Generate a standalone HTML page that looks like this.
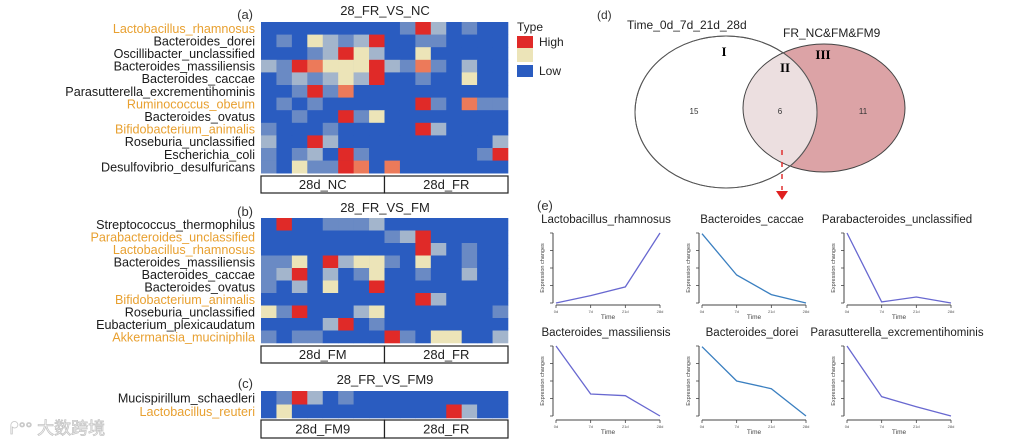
<!DOCTYPE html>
<html><head><meta charset="utf-8"><style>
html,body{margin:0;padding:0;background:#fff;width:1014px;height:440px;overflow:hidden}
svg text{font-family:"Liberation Sans",Arial,sans-serif}
</style></head><body>
<svg id="fig" width="1014" height="440" viewBox="0 0 1014 440" xmlns="http://www.w3.org/2000/svg">
<rect width="1014" height="440" fill="#fff"/>
<g id="heat"></g>
<g id="legend">
 <text x="517" y="31" font-size="12" fill="#222">Type</text>
 <rect x="517" y="36" width="16" height="12" fill="#e02a28"/>
 <rect x="517" y="48" width="16" height="14" fill="#ece4b8"/>
 <rect x="517" y="65" width="16" height="12" fill="#2a5cc0"/>
 <text x="539" y="46" font-size="12" fill="#222">High</text>
 <text x="539" y="75" font-size="12" fill="#222">Low</text>
</g>
<g id="venn">
 <defs><clipPath id="c1"><ellipse cx="726" cy="112" rx="91" ry="76"/></clipPath></defs>
 <text x="597" y="19" font-size="12" fill="#333">(d)</text>
 <text x="627" y="29" font-size="12" fill="#222">Time_0d_7d_21d_28d</text>
 <text x="783" y="37" font-size="12" fill="#222">FR_NC&amp;FM&amp;FM9</text>
 <ellipse cx="824" cy="108" rx="81" ry="64" fill="#dca3a6" stroke="#444" stroke-width="1"/>
 <ellipse cx="726" cy="112" rx="91" ry="76" fill="#fff" stroke="#555" stroke-width="1"/>
 <ellipse cx="824" cy="108" rx="81" ry="64" fill="#ecdfe0" stroke="#444" clip-path="url(#c1)"/>
 <ellipse cx="726" cy="112" rx="91" ry="76" fill="none" stroke="#555" stroke-width="1"/>
 <text x="724" y="56" font-size="13" font-weight="bold" text-anchor="middle" style="font-family:'Liberation Serif',serif">I</text>
 <text x="785" y="72" font-size="13" font-weight="bold" text-anchor="middle" style="font-family:'Liberation Serif',serif">II</text>
 <text x="823" y="59" font-size="13" font-weight="bold" text-anchor="middle" style="font-family:'Liberation Serif',serif">III</text>
 <text x="694" y="114" font-size="8" text-anchor="middle" fill="#333">15</text>
 <text x="780" y="114" font-size="8" text-anchor="middle" fill="#333">6</text>
 <text x="863" y="114" font-size="8" text-anchor="middle" fill="#333">11</text>
 <line x1="782" y1="150" x2="782" y2="190" stroke="#e03030" stroke-width="1.5" stroke-dasharray="5,7"/>
 <polygon points="776,191 788,191 782,200" fill="#e02020"/>
</g>
<text x="537" y="210" font-size="13" fill="#333">(e)</text>
<g id="lines"></g>
<g opacity="0.85">
 <text x="10" y="434" font-size="17" fill="#fff" stroke="#bbb" stroke-width="0.8" style="font-family:'Liberation Sans','Noto Sans CJK SC',sans-serif">ᖰ°° 大数跨境</text>
</g>
</svg>
<script>
const NS="http://www.w3.org/2000/svg";
const colors=["#2a5cc0","#6a8ac4","#a3b5cc","#ece4b8","#ec7a5a","#e02a28"];
const orange="#e8a030";
// Heatmap (a)
const rowsA=["Lactobacillus_rhamnosus","Bacteroides_dorei","Oscillibacter_unclassified","Bacteroides_massiliensis","Bacteroides_caccae","Parasutterella_excrementihominis","Ruminococcus_obeum","Bacteroides_ovatus","Bifidobacterium_animalis","Roseburia_unclassified","Escherichia_coli","Desulfovibrio_desulfuricans"];
const hlA=[1,0,0,0,0,0,1,0,1,0,0,0];
const valsA=[
[0,0,0,0,0,0,0,0,0,1,5,2,0,1,0,0],
[0,1,0,3,2,1,2,5,0,0,1,1,0,0,0,0],
[0,0,0,1,2,5,3,2,0,0,3,0,0,0,0,0],
[2,1,5,4,3,3,3,5,2,1,4,1,0,2,0,0],
[0,1,2,1,2,3,2,5,0,0,1,0,0,3,0,0],
[0,0,1,5,1,4,0,0,0,0,0,0,0,0,0,0],
[0,1,0,1,0,0,0,0,0,0,5,1,0,4,1,1],
[0,0,1,0,0,5,1,3,0,0,0,0,0,0,0,0],
[1,0,0,0,1,0,0,0,0,0,5,2,0,0,0,0],
[2,0,0,5,2,0,0,0,0,0,0,0,0,0,0,2],
[1,0,1,2,0,5,1,0,0,0,0,0,0,0,1,5],
[1,0,3,1,1,5,4,0,4,0,0,0,0,0,0,0]];
const groupsA=["28d_NC","28d_FR"];
// Heatmap (b)
const rowsB=["Streptococcus_thermophilus","Parabacteroides_unclassified","Lactobacillus_rhamnosus","Bacteroides_massiliensis","Bacteroides_caccae","Bacteroides_ovatus","Bifidobacterium_animalis","Roseburia_unclassified","Eubacterium_plexicaudatum","Akkermansia_muciniphila"];
const hlB=[0,1,1,0,0,0,1,0,0,1];
const valsB=[
[0,5,0,0,1,1,1,2,0,0,0,0,0,0,0,0],
[0,0,0,0,0,0,0,0,1,2,5,0,0,0,0,0],
[0,0,0,0,0,0,0,0,0,0,5,2,0,1,0,0],
[1,1,3,0,5,2,3,3,1,0,3,0,0,1,0,0],
[1,2,5,0,2,0,1,3,0,0,1,0,0,2,0,0],
[1,0,2,0,3,0,0,5,0,0,0,0,0,0,0,0],
[0,0,0,0,0,0,0,0,0,0,5,2,0,0,0,0],
[3,1,5,0,0,0,2,3,0,0,0,0,0,0,0,1],
[0,0,0,0,2,5,0,1,0,0,0,0,0,0,0,0],
[1,0,1,1,0,0,0,0,5,1,0,3,3,0,0,2]];
const groupsB=["28d_FM","28d_FR"];
// Heatmap (c)
const rowsC=["Mucispirillum_schaedleri","Lactobacillus_reuteri"];
const hlC=[0,1];
const valsC=[
[0,1,5,2,0,1,0,0,0,0,0,0,0,0,0,0],
[0,3,0,0,0,0,0,0,0,0,0,0,5,2,0,0]];
const groupsC=["28d_FM9","28d_FR"];

const heat=document.getElementById("heat");
function mk(tag,attrs,parent){const e=document.createElementNS(NS,tag);for(const k in attrs)e.setAttribute(k,attrs[k]);(parent||heat).appendChild(e);return e;}
function drawHeat(id,letter,title,rows,hl,vals,groups,y0,rh,gy,gh,ty){
  const g=mk("g",{});
  
  
  const x0=261,cw=247/16;
  const lt=mk("text",{x:253,y:ty+4,"font-size":13,"text-anchor":"end",fill:"#333"},g);lt.textContent="("+letter+")";
  const tt=mk("text",{x:385,y:ty,"font-size":13,"text-anchor":"middle",fill:"#222"},g);tt.textContent=title;
  
  
  mk("rect",{x:x0,y:y0,width:247,height:rh*rows.length,fill:colors[0]},g);
  vals.forEach((row,r)=>row.forEach((v,c)=>{
    const cell=mk("rect",{x:x0+c*cw,y:y0+r*rh,width:cw+0.3,height:rh+0.3,fill:colors[v]},g);
    
    
  }));
  rows.forEach((n,r)=>{
    const t=mk("text",{x:255,y:y0+r*rh+rh/2+4.5,"font-size":12.6,"text-anchor":"end",fill:hl[r]?orange:"#1a1a1a"},g);
    t.textContent=n;
    
    
  });
  groups.forEach((n,i)=>{
    const b=mk("rect",{x:x0+i*123.5,y:gy,width:123.5,height:gh,fill:"#fff",stroke:"#222","stroke-width":1.2},g);
    
    
    const t=mk("text",{x:x0+i*123.5+61.75,y:gy+gh/2+4.5,"font-size":13,"text-anchor":"middle",fill:"#222"},g);
    t.textContent=n;
  });
}
drawHeat("a","a","28_FR_VS_NC",rowsA,hlA,valsA,groupsA,22,12.6,176,17,15);
drawHeat("b","b","28_FR_VS_FM",rowsB,hlB,valsB,groupsB,218,12.5,346,17,212);
drawHeat("c","c","28_FR_VS_FM9",rowsC,hlC,valsC,groupsC,391,13.5,420,18,384);

// Line charts
const lineTitles=["Lactobacillus_rhamnosus","Bacteroides_caccae","Parabacteroides_unclassified","Bacteroides_massiliensis","Bacteroides_dorei","Parasutterella_excrementihominis"];
const timeTicks=["0d","7d","21d","28d"];
const s1=[0,0.105,0.23,1];
const s2=[0.99,0.40,0.12,0];
const s3=[1,0.015,0.086,0];
const s4=[1,0.314,0.29,0];
const s5=[0.99,0.50,0.39,0];
const s6=[1,0.276,0.133,0];
const series=[s1,s2,s3,s4,s5,s6];
const lineColors=["#6868d0","#3a7fc0","#6868d0","#6868d0","#3a7fc0","#6868d0"];
const panelX=[556,702,847];
const L=document.getElementById("lines");
series.forEach((s,i)=>{
  const col=i%3,row=Math.floor(i/3);
  const xl=panelX[col],xr=xl+104;
  const yt=row?346:233,yb=row?416:303,xa=row?420:305;
  const g=mk("g",{},L);
  
  
  const t=mk("text",{x:(xl+xr)/2-2,y:row?336:223,"font-size":11.5,"text-anchor":"middle",fill:"#222"},g);
  t.textContent=lineTitles[i];
  const xs=v=>xl+v*(xr-xl)/3, ys=v=>yb-v*(yb-yt);
  mk("line",{x1:xl-3,y1:yt,x2:xl-3,y2:yb,stroke:"#444","stroke-width":1},g);
  for(let k=0;k<5;k++)mk("line",{x1:xl-6,y1:yt+k*(yb-yt)/4,x2:xl-3,y2:yt+k*(yb-yt)/4,stroke:"#444","stroke-width":0.8},g);
  mk("line",{x1:xl,y1:xa,x2:xr,y2:xa,stroke:"#444","stroke-width":1},g);
  timeTicks.forEach((tk,k)=>{
    mk("line",{x1:xs(k),y1:xa,x2:xs(k),y2:xa+3,stroke:"#444","stroke-width":0.8},g);
    const tx=mk("text",{x:xs(k),y:xa+8,"font-size":4,"text-anchor":"middle",fill:"#555"},g);tx.textContent=tk;
  });
  const xt=mk("text",{x:(xl+xr)/2,y:xa+14,"font-size":6.5,"text-anchor":"middle",fill:"#444"},g);xt.textContent="Time";
  const yl=mk("text",{x:0,y:0,"font-size":5.5,"text-anchor":"middle",fill:"#444",transform:`translate(${xl-12},${(yt+yb)/2}) rotate(-90)`},g);yl.textContent="Expression changes";
  const pts=s.map((v,k)=>xs(k)+","+ys(v)).join(" ");
  const pl=mk("polyline",{points:pts,fill:"none",stroke:lineColors[i],"stroke-width":1.3},g);
  
  
});
</script>
</body></html>
